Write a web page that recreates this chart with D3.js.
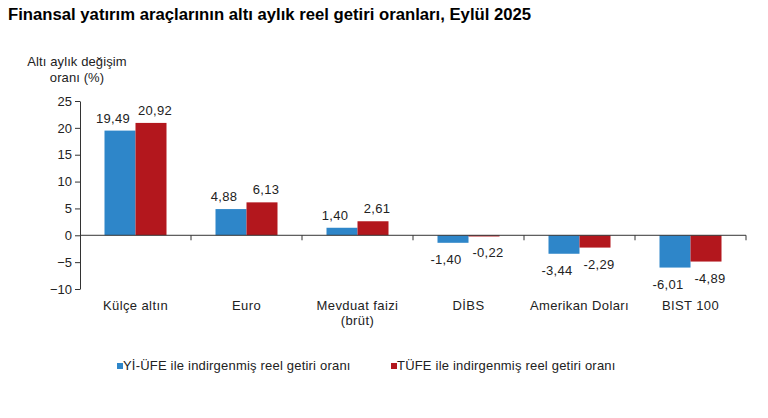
<!DOCTYPE html>
<html>
<head>
<meta charset="utf-8">
<script src="https://cdn.jsdelivr.net/npm/d3@7"></script>
<style>
  body { margin: 0; background: #fff; }
  text { font-family: Arial, "Liberation Sans", sans-serif; }
</style>
</head>
<body>
<div id="chart"></div>
<script>
// data
const categories = [["Külçe altın"], ["Euro"], ["Mevduat faizi", "(brüt)"], ["DİBS"], ["Amerikan Doları"], ["BIST 100"]]
const yiUfe = [19.49, 4.88, 1.40, -1.40, -3.44, -6.01]
const tufe = [20.92, 6.13, 2.61, -0.22, -2.29, -4.89]
const seriesNames = ["Yİ-ÜFE ile indirgenmiş reel getiri oranı", "TÜFE ile indirgenmiş reel getiri oranı"]
const yTicks = [-10, -5, 0, 5, 10, 15, 20, 25]

const W = 768, H = 418
const colors = ["#2E86C9", "#B3171D"]
const fmt = v => v.toFixed(2).replace(".", ",")

const svg = d3.select("#chart").append("svg")
  .attr("width", W).attr("height", H)

svg.append("text").attr("x", 8).attr("y", 20)
  .attr("font-size", 16.7).attr("font-weight", "bold").attr("fill", "#000")
  .text("Finansal yatırım araçlarının altı aylık reel getiri oranları, Eylül 2025")

// y axis title
svg.append("text").attr("x", 77).attr("y", 66).attr("text-anchor", "middle")
  .attr("font-size", 13).attr("letter-spacing", 0.1).attr("fill", "#222").text("Altı aylık değişim")
svg.append("text").attr("x", 77).attr("y", 82).attr("text-anchor", "middle")
  .attr("font-size", 13).attr("letter-spacing", 0.1).attr("fill", "#222").text("oranı (%)")

const x = d3.scaleBand().domain(d3.range(categories.length)).range([80, 746])
const y = d3.scaleLinear().domain([-10, 25]).range([289, 101])
const xSub = d3.scaleBand().domain([0, 1]).range([0, 62])

// y axis
const yAxis = svg.append("g").attr("transform", "translate(80,0)")
  .call(d3.axisLeft(y).tickValues(yTicks).tickSize(5).tickSizeOuter(0))
yAxis.select(".domain").attr("stroke", "#333")
yAxis.selectAll(".tick line").attr("stroke", "#333")
yAxis.selectAll(".tick text").attr("font-size", 13).attr("fill", "#222")
  .attr("font-family", "Arial, 'Liberation Sans', sans-serif").attr("x", -8)

// bars
const rows = categories.map((c, i) => ({ i, vals: [yiUfe[i], tufe[i]] }))
const groups = svg.append("g").selectAll("g").data(rows).enter().append("g")
  .attr("transform", d => "translate(" + (x(d.i) + x.bandwidth() / 2 - 31) + ",0)")

groups.selectAll("rect")
  .data(d => d.vals.map((v, k) => ({ k, v })))
  .enter().append("rect")
  .attr("x", d => xSub(d.k))
  .attr("width", xSub.bandwidth())
  .attr("y", d => y(Math.max(0, d.v)))
  .attr("height", d => Math.abs(y(d.v) - y(0)))
  .attr("fill", d => colors[d.k])

// value labels pushed slightly apart, as in the original
const labelShift = [-7, 4]
groups.selectAll("text.val")
  .data(d => d.vals.map((v, k) => ({ k, v })))
  .enter().append("text").attr("class", "val")
  .attr("x", d => xSub(d.k) + xSub.bandwidth() / 2 + labelShift[d.k])
  .attr("y", d => d.v >= 0 ? y(d.v) - 8 : y(d.v) + 21)
  .attr("text-anchor", "middle").attr("font-size", 13).attr("letter-spacing", 0.3).attr("fill", "#222")
  .text(d => fmt(d.v))

// zero axis with category ticks
svg.append("line").attr("x1", 80).attr("x2", 746).attr("y1", y(0)).attr("y2", y(0))
  .attr("stroke", "#333")
svg.append("g").selectAll("line").data(d3.range(1, categories.length + 1)).enter().append("line")
  .attr("x1", d => x.step() * d + 80).attr("x2", d => x.step() * d + 80)
  .attr("y1", y(0)).attr("y2", y(0) + 5).attr("stroke", "#333")

// category labels
const cat = svg.append("g").selectAll("text").data(categories).enter().append("text")
  .attr("x", (d, i) => x(i) + x.bandwidth() / 2)
  .attr("y", 310).attr("text-anchor", "middle").attr("font-size", 13)
  .attr("letter-spacing", 0.4).attr("fill", "#222")
cat.selectAll("tspan").data(d => d).enter().append("tspan")
  .attr("x", function () { return d3.select(this.parentNode).attr("x") })
  .attr("dy", (d, j) => j === 0 ? 0 : 15)
  .text(d => d)

// legend
const legX = [117, 391]
seriesNames.forEach((n, k) => {
  svg.append("rect").attr("x", legX[k]).attr("y", 363).attr("width", 6).attr("height", 6)
    .attr("fill", colors[k])
  svg.append("text").attr("x", legX[k] + 6).attr("y", 370).attr("font-size", 13)
    .attr("letter-spacing", 0.2).attr("fill", "#222").text(n)
})
</script>
</body>
</html>
